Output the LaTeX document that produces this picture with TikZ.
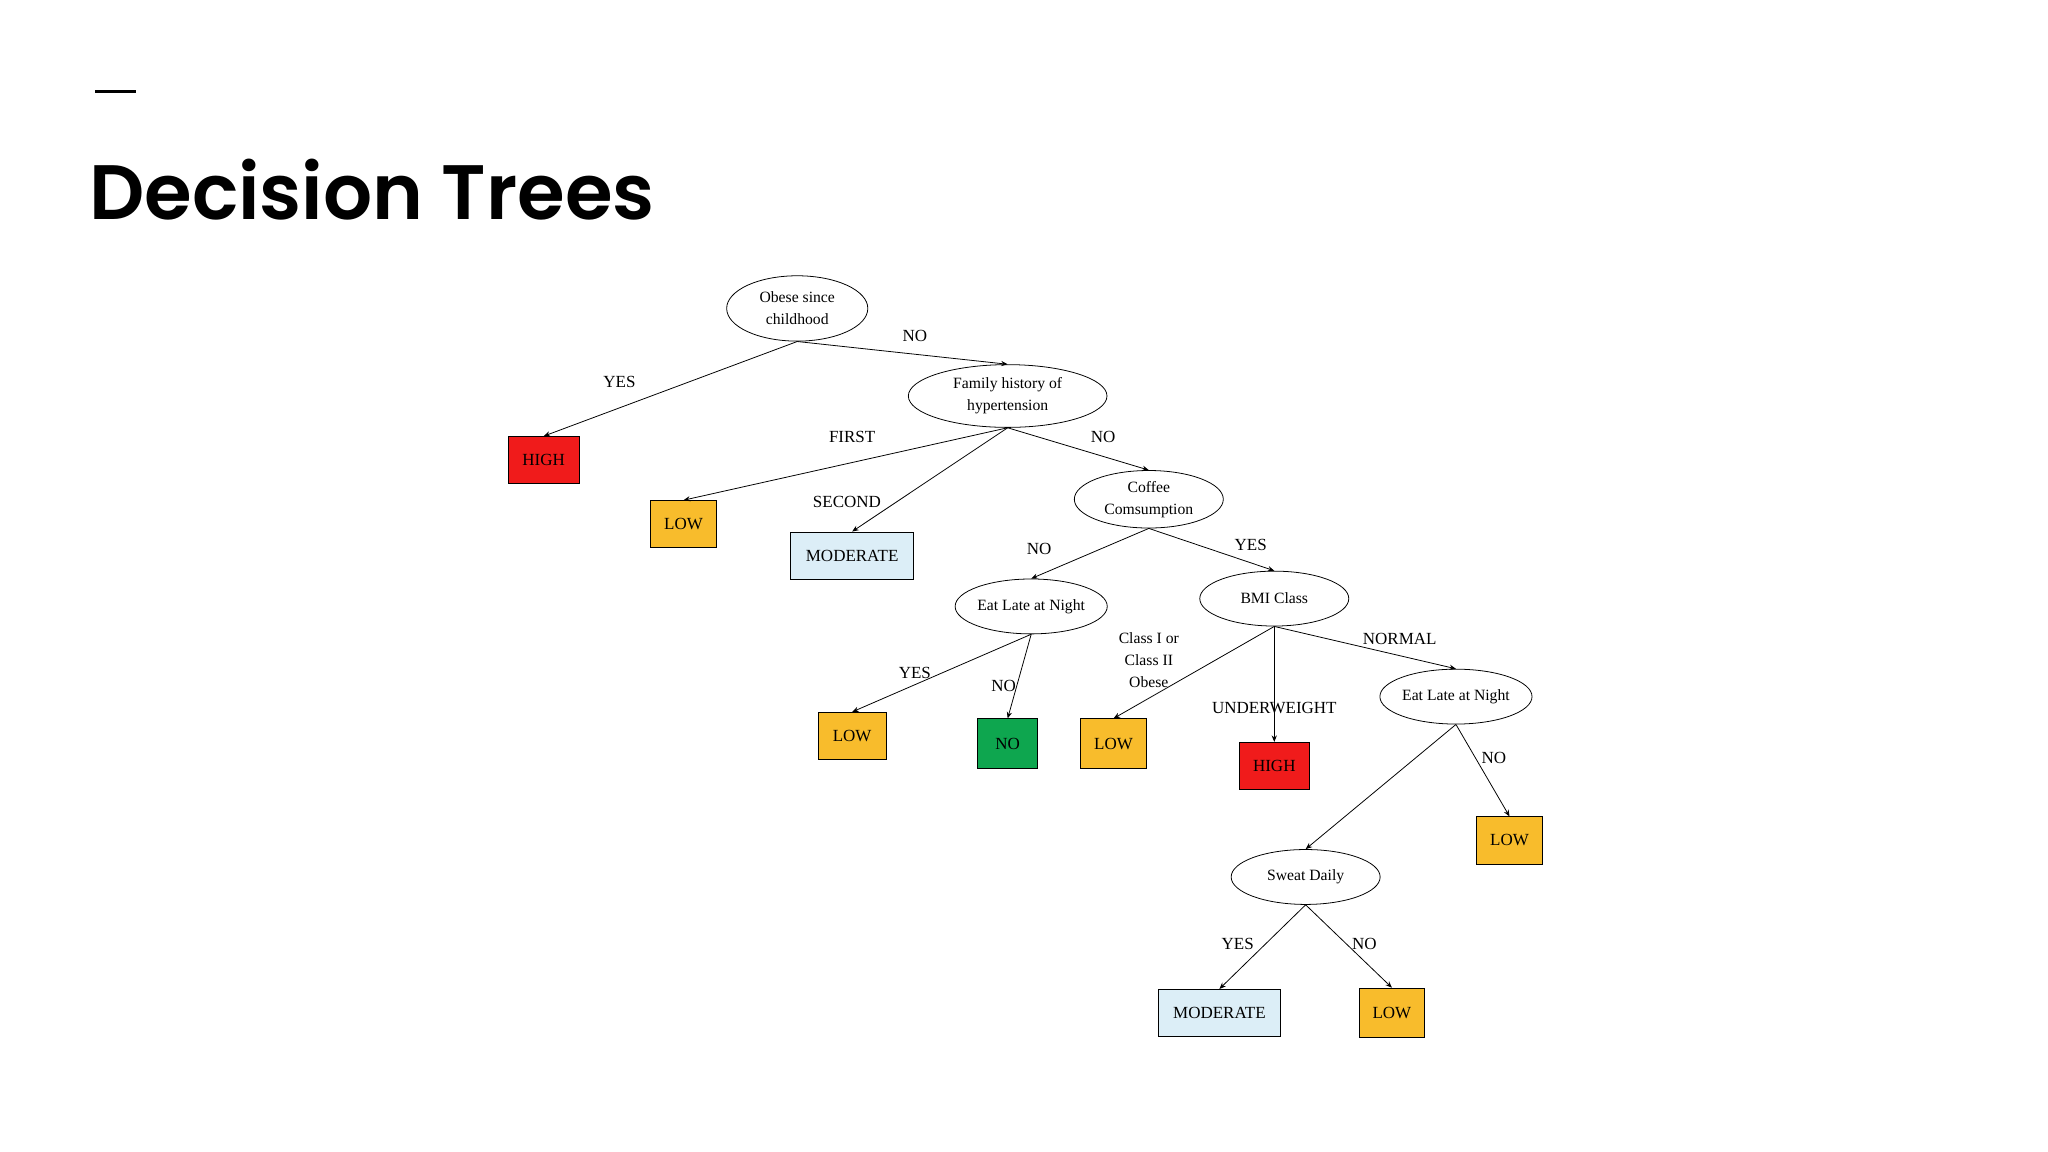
\documentclass[tikz,border=0pt]{standalone}
\usepackage{fontspec}
\setmainfont{Liberation Serif}
\newfontfamily\titlefont{Poppins SemiBold}
\usetikzlibrary{shapes.geometric,arrows.meta}
\definecolor{cred}{HTML}{F01B1B}
\definecolor{corange}{HTML}{F8BC2C}
\definecolor{cblue}{HTML}{DCEEF7}
\definecolor{cgreen}{HTML}{0EA64F}
\begin{document}
\begin{tikzpicture}[x=1pt,y=-1pt,
  el/.style={draw,ellipse,line width=0.6pt,inner sep=0pt,font=\fontsize{12}{17}\selectfont,align=center},
  bx/.style={draw,line width=0.6pt,inner sep=0pt,font=\fontsize{13}{14}\selectfont},
  lb/.style={font=\fontsize{13}{14}\selectfont,inner sep=1pt,align=center},
  ed/.style={-{Stealth[length=5pt,width=4pt]},line width=0.6pt}]
\path[use as bounding box,fill=white] (0,0) rectangle (1567,881.4);
\draw[line width=2.5pt] (73,70) -- (104,70);
\node[anchor=base west,inner sep=0pt,font=\titlefont\fontsize{59}{60}\selectfont] (title) at (68,168) {Decision Trees};
\node[el,minimum width=108,minimum height=50] (obese) at (610,236) {Obese since\\childhood};
\node[bx,fill=cred,minimum width=54,minimum height=36] (high1) at (416,352) {HIGH};
\node[el,minimum width=152,minimum height=48] (fam) at (771,303) {Family history of\\hypertension};
\node[bx,fill=corange,minimum width=50,minimum height=36] (low1) at (523,401) {LOW};
\node[bx,fill=cblue,minimum width=94,minimum height=36] (mod1) at (652,425) {MODERATE};
\node[el,minimum width=114,minimum height=44] (cof) at (879,382) {Coffee\\Comsumption};
\node[el,minimum width=114,minimum height=42] (eat1) at (789,464) {Eat Late at Night};
\node[el,minimum width=114,minimum height=42] (bmi) at (975,458) {BMI Class};
\node[bx,fill=corange,minimum width=52,minimum height=36] (low2) at (652,563) {LOW};
\node[bx,fill=cgreen,minimum width=46,minimum height=38] (no1) at (771,569) {NO};
\node[bx,fill=corange,minimum width=50,minimum height=38] (low3) at (852,569) {LOW};
\node[bx,fill=cred,minimum width=54,minimum height=36] (high2) at (975,586) {HIGH};
\node[el,minimum width=114,minimum height=42] (eat2) at (1114,533) {Eat Late at Night};
\node[bx,fill=corange,minimum width=50,minimum height=36] (low4) at (1155,643) {LOW};
\node[el,minimum width=114,minimum height=42] (sweat) at (999,671) {Sweat Daily};
\node[bx,fill=cblue,minimum width=94,minimum height=36] (mod2) at (933,775) {MODERATE};
\node[bx,fill=corange,minimum width=50,minimum height=38] (low5) at (1065,775) {LOW};
\draw[ed] (obese.south) -- (high1.north);
\draw[ed] (obese.south) -- (fam.north);
\draw[ed] (fam.south) -- (low1.north);
\draw[ed] (fam.south) -- (mod1.north);
\draw[ed] (fam.south) -- (cof.north);
\draw[ed] (cof.south) -- (eat1.north);
\draw[ed] (cof.south) -- (bmi.north);
\draw[ed] (eat1.south) -- (low2.north);
\draw[ed] (eat1.south) -- (no1.north);
\draw[ed] (bmi.south) -- (low3.north);
\draw[ed] (bmi.south) -- (high2.north);
\draw[ed] (bmi.south) -- (eat2.north);
\draw[ed] (eat2.south) -- (low4.north);
\draw[ed] (eat2.south) -- (sweat.north);
\draw[ed] (sweat.south) -- (mod2.north);
\draw[ed] (sweat.south) -- (low5.north);
\node[lb] (l1) at (700,257) {NO};
\node[lb] (l2) at (474,292) {YES};
\node[lb] (l3) at (652,334) {FIRST};
\node[lb] (l4) at (844,334) {NO};
\node[lb] (l5) at (648,384) {SECOND};
\node[lb] (l6) at (795,420) {NO};
\node[lb] (l7) at (957,417) {YES};
\node[lb] (l8) at (700,515) {YES};
\node[lb] (l9) at (768,525) {NO};
\node[lb,font=\fontsize{12}{17}\selectfont] (l10) at (879,505) {Class I or\\Class II\\Obese};
\node[lb] (l11) at (975,542) {UNDERWEIGHT};
\node[lb] (l12) at (1071,489) {NORMAL};
\node[lb] (l13) at (1143,580) {NO};
\node[lb] (l14) at (947,722) {YES};
\node[lb] (l15) at (1044,722) {NO};
\end{tikzpicture}
\end{document}
